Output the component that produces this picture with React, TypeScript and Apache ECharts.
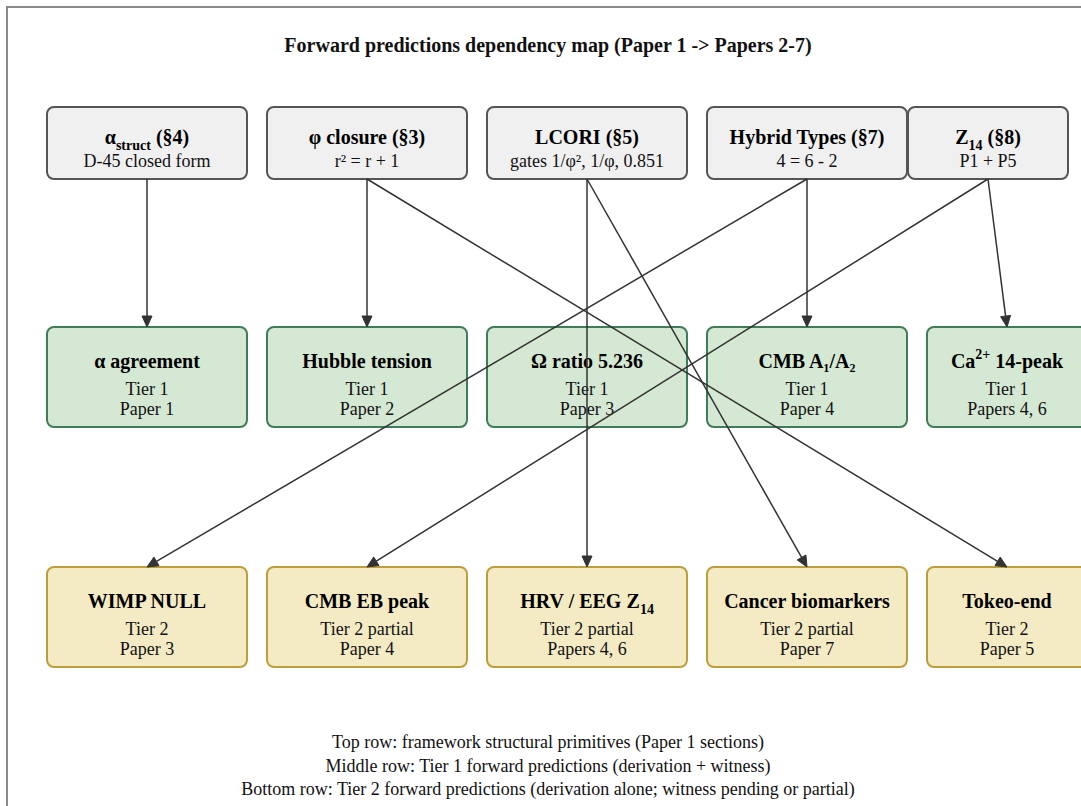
import React, { useEffect, useRef } from 'react';
import * as echarts from 'echarts';

// ---- content ----
const chartTitle = 'Forward predictions dependency map (Paper 1 -> Papers 2-7)';

const topTitles = ['{b|α}{sub|struct}{b| (§4)}', '{b|φ closure (§3)}', '{b|LCORI (§5)}', '{b|Hybrid Types (§7)}', '{b|Z}{sub|14}{b| (§8)}'];
const topSubs = ['D-45 closed form', 'r² = r + 1', 'gates 1/φ², 1/φ, 0.851', '4 = 6 - 2', 'P1 + P5'];

const midTitles = ['{b|α agreement}', '{b|Hubble tension}', '{b|Ω ratio 5.236}', '{b|CMB A₁/A₂}', '{b|Ca}{sup|2+}{b| 14-peak}'];
const midTiers = ['Tier 1', 'Tier 1', 'Tier 1', 'Tier 1', 'Tier 1'];
const midPapers = ['Paper 1', 'Paper 2', 'Paper 3', 'Paper 4', 'Papers 4, 6'];

const botTitles = ['{b|WIMP NULL}', '{b|CMB EB peak}', '{b|HRV / EEG Z}{sub|14}', '{b|Cancer biomarkers}', '{b|Tokeo-end}'];
const botTiers = ['Tier 2', 'Tier 2 partial', 'Tier 2 partial', 'Tier 2 partial', 'Tier 2'];
const botPapers = ['Paper 3', 'Paper 4', 'Papers 4, 6', 'Paper 7', 'Paper 5'];

// edges: source (top row index) -> target (row, index)
const edgeFrom = [0, 1, 1, 2, 2, 3, 3, 4, 4];
const edgeToRow = ['mid', 'mid', 'bot', 'bot', 'bot', 'mid', 'bot', 'mid', 'bot'];
const edgeToIdx = [0, 1, 4, 2, 3, 3, 0, 4, 1];

const captions = [
  'Top row: framework structural primitives (Paper 1 sections)',
  'Middle row: Tier 1 forward predictions (derivation + witness)',
  'Bottom row: Tier 2 forward predictions (derivation alone; witness pending or partial)',
];

// ---- layout (pixel space of the canvas) ----
const topLeft = [47, 267, 487, 707, 908];
const lowerLeft = [47, 267, 487, 707, 927];
const boxWidth = [200, 200, 200, 200, 160];
const rowTop: Record<string, number> = { top: 107, mid: 327, bot: 567 };
const rowHeight: Record<string, number> = { top: 72, mid: 100, bot: 100 };

const FONT = 'Liberation Serif';

const styles: Record<string, { fill: string; stroke: string }> = {
  top: { fill: '#f0f0f0', stroke: '#555555' },
  mid: { fill: '#d5e8d4', stroke: '#3f7c5a' },
  bot: { fill: '#f4ebc4', stroke: '#bc9f3c' },
};

const richTitle = {
  b: { fontFamily: FONT, fontWeight: 'bold', fontSize: 20, lineHeight: 30, color: '#111' },
  sub: { fontFamily: FONT, fontWeight: 'bold', fontSize: 14, lineHeight: 14, verticalAlign: 'bottom', color: '#111' },
  sup: { fontFamily: FONT, fontWeight: 'bold', fontSize: 14, lineHeight: 14, verticalAlign: 'top', padding: [1, 0, 0, 0], color: '#111' },
};

function buildNodes() {
  const nodes: any[] = [];
  for (let i = 0; i < topTitles.length; i++) {
    nodes.push({ value: [topLeft[i], rowTop.top, topLeft[i] + boxWidth[i], rowTop.top + rowHeight.top], row: 'top', lines: [topTitles[i], topSubs[i]] });
  }
  for (let i = 0; i < midTitles.length; i++) {
    nodes.push({ value: [lowerLeft[i], rowTop.mid, lowerLeft[i] + boxWidth[i], rowTop.mid + rowHeight.mid], row: 'mid', lines: [midTitles[i], midTiers[i], midPapers[i]] });
  }
  for (let i = 0; i < botTitles.length; i++) {
    nodes.push({ value: [lowerLeft[i], rowTop.bot, lowerLeft[i] + boxWidth[i], rowTop.bot + rowHeight.bot], row: 'bot', lines: [botTitles[i], botTiers[i], botPapers[i]] });
  }
  return nodes;
}

function buildEdges() {
  const edges: number[][] = [];
  for (let k = 0; k < edgeFrom.length; k++) {
    const s = edgeFrom[k];
    const sx = topLeft[s] + boxWidth[s] / 2;
    const sy = rowTop.top + rowHeight.top;
    const t = edgeToIdx[k];
    const row = edgeToRow[k];
    const tx = lowerLeft[t] + boxWidth[t] / 2;
    const ty = rowTop[row];
    edges.push([sx, sy, tx, ty]);
  }
  return edges;
}

export default function App() {
  const ref = useRef<HTMLDivElement>(null);
  useEffect(() => {
    document.body.style.margin = '0';
    const chart = echarts.init(ref.current!, null, { renderer: 'svg' });
    const nodes = buildNodes();
    const edges = buildEdges();

    const option: any = {
      animation: false,
      backgroundColor: '#ffffff',
      textStyle: { fontFamily: FONT },
      grid: { left: 0, right: 0, top: 0, bottom: 0 },
      xAxis: { type: 'value', min: 0, max: 1081, show: false },
      yAxis: { type: 'value', min: 0, max: 806, inverse: true, show: false },
      graphic: [
        { type: 'rect', shape: { x: 7, y: 7, width: 1200, height: 1000 }, style: { fill: 'none', stroke: '#8a8a8a', lineWidth: 2 }, z: -10 },
        { type: 'text', x: 548, y: 45, style: { text: chartTitle, fontFamily: FONT, fontWeight: 'bold', fontSize: 20, fill: '#111', align: 'center', verticalAlign: 'middle' } },
        ...captions.map((c, i) => ({ type: 'text', x: 548, y: 742 + i * 23.5, style: { text: c, fontFamily: FONT, fontSize: 18, fill: '#111', align: 'center', verticalAlign: 'middle' } })),
      ],
      series: [
        {
          type: 'custom',
          coordinateSystem: 'cartesian2d',
          clip: false,
          z: 2,
          data: nodes.map((n) => n.value),
          encode: { x: [0, 2], y: [1, 3] },
          renderItem: (params: any, api: any) => {
            const n = nodes[params.dataIndex];
            const p0 = api.coord([api.value(0), api.value(1)]);
            const p1 = api.coord([api.value(2), api.value(3)]);
            const st = styles[n.row];
            const cx = (p0[0] + p1[0]) / 2;
            const children: any[] = [
              { type: 'rect', shape: { x: p0[0], y: p0[1], width: p1[0] - p0[0], height: p1[1] - p0[1], r: 7 }, style: { fill: st.fill, stroke: st.stroke, lineWidth: 2 } },
            ];
            if (n.row === 'top') {
              children.push({ type: 'text', x: cx, y: p0[1] + 30, style: { text: n.lines[0], rich: richTitle, align: 'center', verticalAlign: 'middle' } });
              children.push({ type: 'text', x: cx, y: p0[1] + 54, style: { text: n.lines[1], fontFamily: FONT, fontSize: 18, fill: '#111', align: 'center', verticalAlign: 'middle' } });
            } else {
              children.push({ type: 'text', x: cx, y: p0[1] + 34, style: { text: n.lines[0], rich: richTitle, align: 'center', verticalAlign: 'middle' } });
              children.push({ type: 'text', x: cx, y: p0[1] + 62, style: { text: n.lines[1], fontFamily: FONT, fontSize: 18, fill: '#111', align: 'center', verticalAlign: 'middle' } });
              children.push({ type: 'text', x: cx, y: p0[1] + 82, style: { text: n.lines[2], fontFamily: FONT, fontSize: 18, fill: '#111', align: 'center', verticalAlign: 'middle' } });
            }
            return { type: 'group', children };
          },
        },
        {
          type: 'custom',
          coordinateSystem: 'cartesian2d',
          clip: false,
          z: 5,
          data: edges,
          encode: { x: [0, 2], y: [1, 3] },
          renderItem: (params: any, api: any) => {
            const a = api.coord([api.value(0), api.value(1)]);
            const b = api.coord([api.value(2), api.value(3)]);
            const dx = b[0] - a[0];
            const dy = b[1] - a[1];
            const len = Math.sqrt(dx * dx + dy * dy);
            const ux = dx / len;
            const uy = dy / len;
            const headLen = 11;
            const headHalf = 5;
            const bx = b[0] - ux * headLen;
            const by = b[1] - uy * headLen;
            return {
              type: 'group',
              children: [
                { type: 'line', shape: { x1: a[0], y1: a[1], x2: bx, y2: by }, style: { stroke: '#333333', lineWidth: 1.5 } },
                {
                  type: 'polygon',
                  shape: { points: [[b[0], b[1]], [bx - uy * headHalf, by + ux * headHalf], [bx + uy * headHalf, by - ux * headHalf]] },
                  style: { fill: '#333333', stroke: '#333333', lineWidth: 1 },
                },
              ],
            };
          },
        },
      ],
    };
    chart.setOption(option);
    return () => chart.dispose();
  }, []);
  return <div ref={ref} style={{ position: 'absolute', left: 0, top: 0, width: 1081, height: 806 }} />;
}
